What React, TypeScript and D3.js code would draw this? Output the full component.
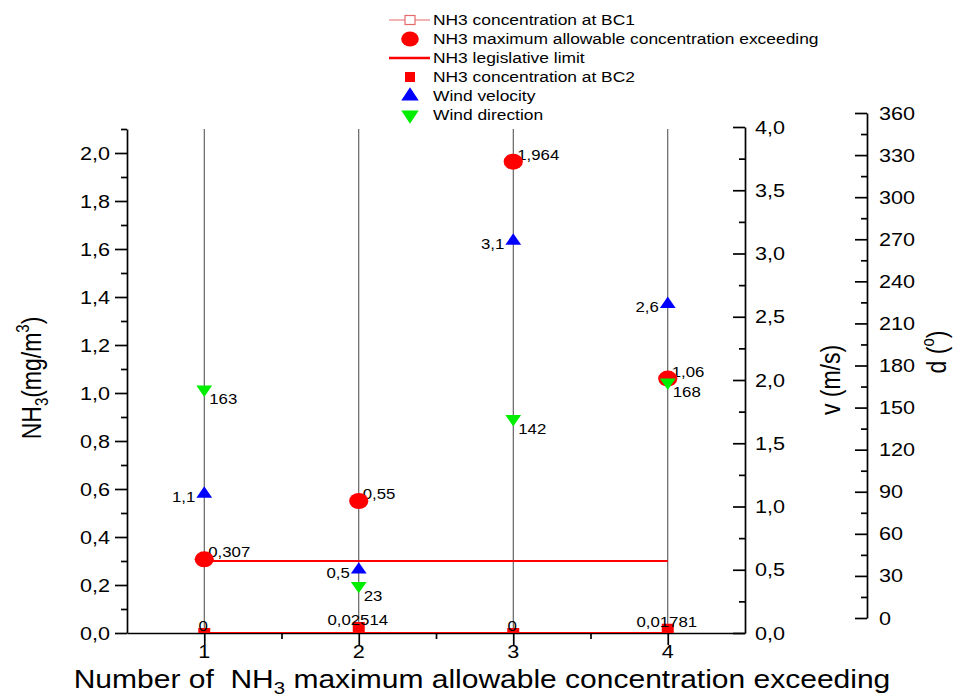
import React, { useEffect, useRef } from "react";
import * as d3 from "d3";

// chart values
const categories = [1, 2, 3, 4];
const bc1 = [0, 0, 0, 0];
const exceeding = [0.307, 0.55, 1.964, 1.06];
const legislativeLimit = 0.3;
const bc2 = [0, 0.02514, 0, 0.01781];
const windVelocity = [1.1, 0.5, 3.1, 2.6];
const windDirection = [163, 23, 142, 168];

const leftTicks = [0, 0.2, 0.4, 0.6, 0.8, 1.0, 1.2, 1.4, 1.6, 1.8, 2.0];
const vTicks = [0, 0.5, 1.0, 1.5, 2.0, 2.5, 3.0, 3.5, 4.0];
const dTicks = [0, 30, 60, 90, 120, 150, 180, 210, 240, 270, 300, 330, 360];

const legendItems = [
  "NH3 concentration at BC1",
  "NH3 maximum allowable concentration exceeding",
  "NH3 legislative limit",
  "NH3 concentration at BC2",
  "Wind velocity",
  "Wind direction",
];

const FONT = "'Liberation Sans', Arial, Helvetica, sans-serif";
const SX = 1.2; // the picture is a bit wider than tall, text too
const RED = "#ff0000";
const BLUE = "#0000ff";
const GREEN = "#00ee00";

const comma = (v: number) => String(v).replace(".", ",");

const App = () => {
  const ref = useRef<SVGSVGElement | null>(null);

  useEffect(() => {
    const svg = d3.select(ref.current);
    svg.selectAll("*").remove();

    const x = d3.scaleLinear().domain([0.5, 4.5]).range([127, 745]);
    const yL = d3.scaleLinear().domain([0, 2.1]).range([633, 129]);
    const yV = d3.scaleLinear().domain([0, 4]).range([633, 127]);
    const yD = d3.scaleLinear().domain([0, 360]).range([618, 113]);

    const text = (
      g: any,
      px: number,
      py: number,
      s: string,
      size: number,
      anchor = "start",
      rotate = 0
    ) =>
      g
        .append("text")
        .attr(
          "transform",
          `translate(${px},${py}) scale(${SX},1)` + (rotate ? ` rotate(${rotate})` : "")
        )
        .attr("font-size", size)
        .attr("font-family", FONT)
        .attr("text-anchor", anchor)
        .attr("fill", "#000")
        .text(s);

    svg
      .append("defs")
      .append("clipPath")
      .attr("id", "plotclip")
      .append("rect")
      .attr("x", 120)
      .attr("y", 100)
      .attr("width", 640)
      .attr("height", 533);

    // drop lines
    svg
      .append("g")
      .selectAll("line")
      .data(categories)
      .join("line")
      .attr("x1", (d) => x(d))
      .attr("x2", (d) => x(d))
      .attr("y1", yL(0))
      .attr("y2", 129)
      .attr("stroke", "#444")
      .attr("stroke-width", 1);

    // axes
    const styleAxis = (g: any) => {
      g.selectAll("path, line").attr("stroke", "#000").attr("stroke-width", 1.7);
    };
    const minor = (from: number, to: number, step: number) =>
      d3.range(from, to + step / 2, step);

    svg
      .append("g")
      .attr("transform", "translate(127,0)")
      .call(d3.axisLeft(yL).tickValues(leftTicks).tickSize(12).tickSizeOuter(0).tickFormat(() => ""))
      .call(styleAxis);
    svg
      .append("g")
      .attr("transform", "translate(127,0)")
      .call(d3.axisLeft(yL).tickValues(minor(0.1, 2.1, 0.2)).tickSize(6).tickFormat(() => ""))
      .call((g: any) => g.select(".domain").remove())
      .call(styleAxis);

    svg
      .append("g")
      .attr("transform", "translate(0,633)")
      .call(d3.axisBottom(x).tickValues(categories).tickSize(12).tickSizeOuter(0).tickFormat(() => ""))
      .call(styleAxis);
    svg
      .append("g")
      .attr("transform", "translate(0,633)")
      .call(d3.axisBottom(x).tickValues([1.5, 2.5, 3.5]).tickSize(6).tickFormat(() => ""))
      .call((g: any) => g.select(".domain").remove())
      .call(styleAxis);

    svg
      .append("g")
      .attr("transform", "translate(745,0)")
      .call(d3.axisLeft(yV).tickValues(vTicks).tickSize(12).tickSizeOuter(0).tickFormat(() => ""))
      .call(styleAxis);
    svg
      .append("g")
      .attr("transform", "translate(745,0)")
      .call(d3.axisLeft(yV).tickValues(minor(0.25, 3.75, 0.5)).tickSize(6).tickFormat(() => ""))
      .call((g: any) => g.select(".domain").remove())
      .call(styleAxis);

    svg
      .append("g")
      .attr("transform", "translate(867,0)")
      .call(d3.axisLeft(yD).tickValues(dTicks).tickSize(12).tickSizeOuter(0).tickFormat(() => ""))
      .call(styleAxis);
    svg
      .append("g")
      .attr("transform", "translate(867,0)")
      .call(d3.axisLeft(yD).tickValues(minor(15, 345, 30)).tickSize(6).tickFormat(() => ""))
      .call((g: any) => g.select(".domain").remove())
      .call(styleAxis);

    // tick labels
    const labels = svg.append("g");
    leftTicks.forEach((t) => text(labels, 110, yL(t) + 6.5, t.toFixed(1).replace(".", ","), 18, "end"));
    vTicks.forEach((t) => text(labels, 755, yV(t) + 6.5, t.toFixed(1).replace(".", ","), 18));
    dTicks.forEach((t) => text(labels, 879, yD(t) + 6.5, String(t), 18));
    categories.forEach((c) => text(labels, x(c), 658, String(c), 18, "middle"));

    // axis titles
    const xt = text(svg, 482, 688, "", 25, "middle").style("white-space", "pre");
    xt.append("tspan").text("Number of  NH");
    xt.append("tspan").attr("font-size", 17).attr("dy", 6).text("3");
    xt.append("tspan").attr("dy", -6).text(" maximum allowable concentration exceeding");

    const lt = text(svg, 41, 378, "", 23, "middle", -90);
    lt.append("tspan").text("NH");
    lt.append("tspan").attr("font-size", 15).attr("dy", 6).text("3");
    lt.append("tspan").attr("dy", -6).text("(mg/m");
    lt.append("tspan").attr("font-size", 15).attr("dy", -10).text("3");
    lt.append("tspan").attr("dy", 10).text(")");

    text(svg, 840, 380, "v (m/s)", 23, "middle", -90);
    const dt = text(svg, 946, 352, "", 23, "middle", -90).style("white-space", "pre");
    dt.append("tspan").text("d (");
    dt.append("tspan").attr("font-size", 15).attr("dy", -10).text("o");
    dt.append("tspan").attr("dy", 10).text(")");

    const plot = svg.append("g").attr("clip-path", "url(#plotclip)");

    // BC1 line at zero and the legislative limit
    const line = d3
      .line<number>()
      .x((_, i) => x(categories[i]))
      .y((d) => yL(d));
    plot.append("path").attr("d", line(bc1)).attr("fill", "none").attr("stroke", RED).attr("stroke-width", 2);
    plot
      .append("path")
      .attr("d", line(categories.map(() => legislativeLimit)))
      .attr("fill", "none")
      .attr("stroke", RED)
      .attr("stroke-width", 2.2);

    // labels of the exceeding circles, drawn under the circles
    exceeding.forEach((v, i) => text(plot, x(categories[i]) + 4, yL(v) - 2, comma(v), 14));

    const sq = d3.symbol(d3.symbolSquare, 100);
    const tri = d3.symbol(d3.symbolTriangle, 75);

    plot
      .append("g")
      .selectAll("path")
      .data(bc2)
      .join("path")
      .attr("d", sq)
      .attr("transform", (d, i) => `translate(${x(categories[i])},${yL(d)}) scale(${SX},1)`)
      .attr("fill", RED);

    plot
      .append("g")
      .selectAll("ellipse")
      .data(exceeding)
      .join("ellipse")
      .attr("cx", (_, i) => x(categories[i]))
      .attr("cy", (d) => yL(d))
      .attr("rx", 9.6)
      .attr("ry", 8)
      .attr("fill", RED);

    plot
      .append("g")
      .selectAll("path")
      .data(windVelocity)
      .join("path")
      .attr("d", tri)
      .attr("transform", (d, i) => `translate(${x(categories[i])},${yV(d)}) scale(${SX},1)`)
      .attr("fill", BLUE);

    plot
      .append("g")
      .selectAll("path")
      .data(windDirection)
      .join("path")
      .attr("d", tri)
      .attr("transform", (d, i) => `translate(${x(categories[i])},${yD(d)}) scale(${SX},1) rotate(180)`)
      .attr("fill", GREEN);

    bc2.forEach((v, i) => text(plot, x(categories[i]) - 1, yL(v) - 2, comma(v), 14, "middle"));
    windVelocity.forEach((v, i) => text(plot, x(categories[i]) - 9, yV(v) + 8, comma(v), 14, "end"));
    windDirection.forEach((v, i) => text(plot, x(categories[i]) + 5, yD(v) + 15, String(v), 14));

    // legend
    const rows = [20, 39, 58, 77, 96, 115];
    const lg = svg.append("g");
    const sx = 410;
    lg.append("line").attr("x1", 389).attr("x2", 430).attr("y1", rows[0]).attr("y2", rows[0]).attr("stroke", "#e46a6a").attr("stroke-width", 1.2);
    lg.append("rect").attr("x", sx - 5).attr("y", rows[0] - 4.5).attr("width", 10).attr("height", 9).attr("fill", "#fff").attr("stroke", "#e46a6a").attr("stroke-width", 1.2);
    lg.append("ellipse").attr("cx", sx).attr("cy", rows[1]).attr("rx", 8.8).attr("ry", 7.6).attr("fill", RED);
    lg.append("line").attr("x1", 389).attr("x2", 430).attr("y1", rows[2]).attr("y2", rows[2]).attr("stroke", RED).attr("stroke-width", 2.4);
    lg.append("path").attr("d", sq).attr("transform", `translate(${sx},${rows[3]})`).attr("fill", RED);
    lg.append("path").attr("d", d3.symbol(d3.symbolTriangle, 100)()).attr("transform", `translate(${sx},${rows[4]}) scale(1.15,1)`).attr("fill", BLUE);
    lg.append("path").attr("d", d3.symbol(d3.symbolTriangle, 100)()).attr("transform", `translate(${sx},${rows[5]}) scale(1.15,1) rotate(180)`).attr("fill", GREEN);
    legendItems.forEach((s, i) => text(lg, 433, rows[i] + 5, s, 14.5));
  }, []);

  return (
    <svg
      ref={ref}
      width={965}
      height={699}
      style={{ position: "absolute", left: 0, top: 0, background: "#fff" }}
    />
  );
};

export default App;
